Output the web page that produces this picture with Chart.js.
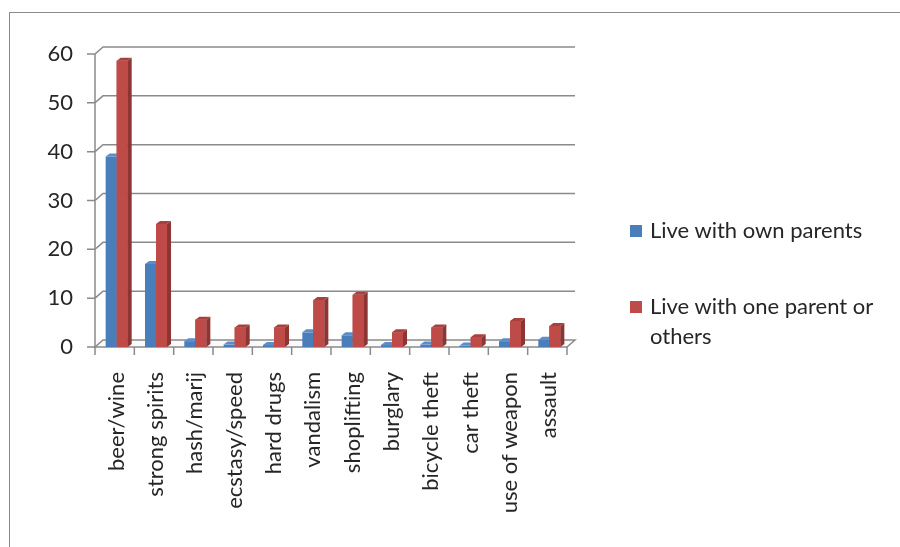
<!DOCTYPE html>
<html>
<head>
<meta charset="utf-8">
<script src="https://cdn.jsdelivr.net/npm/chart.js@4.4.1/dist/chart.umd.min.js"></script>
<style>
  html, body { margin: 0; padding: 0; background: #fff; }
  #wrap { position: relative; width: 900px; height: 547px; overflow: hidden; }
  #frame {
    position: absolute; left: 9px; top: 12px; width: 1000px; height: 1000px;
    border: 1.5px solid #8a8a8a; box-sizing: border-box;
  }
  #chart { position: absolute; left: 0; top: 0; }
  #legend {
    position: absolute; left: 630px; top: 215px; width: 262px;
    font-family: Lato, sans-serif; font-size: 22px; color: #262626;
  }
  .item { position: relative; padding-left: 20px; line-height: 30px; }
  .item .box { position: absolute; left: 0; top: 10px; width: 12px; height: 12px; }
</style>
</head>
<body>
<div id="wrap">
  <div id="frame"></div>
  <canvas id="chart" width="900" height="547"></canvas>
  <div id="legend"></div>
</div>
<script>
// categories and series
const categories = [
  "beer/wine", "strong spirits", "hash/marij", "ecstasy/speed", "hard drugs",
  "vandalism", "shoplifting", "burglary", "bicycle theft", "car theft",
  "use of weapon", "assault",
];
const ownParents = [39, 17, 1.2, 0.5, 0.4, 3, 2.4, 0.4, 0.5, 0.3, 1.2, 1.5];
const oneParent = [58.6, 25.2, 5.6, 4, 4, 9.6, 10.7, 3, 4, 2, 5.3, 4.3];
const seriesNames = ["Live with own parents", "Live with one parent or others"];
const yTicks = [0, 10, 20, 30, 40, 50, 60];

const colors = [
  { front: "#4a7ebb", side: "#355c8a", top: "#5d8dc8" },
  { front: "#be4b48", side: "#8c3532", top: "#a8403d" },
];

const DX = 8, DY = 7; // depth of the back wall
const BX = 4, BY = 3; // depth of each bar
const SHIFT = 2;      // bars sit a bit right of the front axis
const gridColor = "#8a8a8a";

function drawBarFaces(ctx, bar, c) {
  const { x, y, base, width } = bar.getProps(["x", "y", "base", "width"], true);
  const l = x - width / 2, r = x + width / 2;
  ctx.fillStyle = c.side;
  ctx.beginPath();
  ctx.moveTo(r, y);
  ctx.lineTo(r + BX, y - BY);
  ctx.lineTo(r + BX, base - BY);
  ctx.lineTo(r, base);
  ctx.closePath();
  ctx.fill();
  ctx.fillStyle = c.top;
  ctx.beginPath();
  ctx.moveTo(l, y);
  ctx.lineTo(l + BX, y - BY);
  ctx.lineTo(r + BX, y - BY);
  ctx.lineTo(r, y);
  ctx.closePath();
  ctx.fill();
}

// 3d walls, floor and the extra faces of the bars
const wall3d = {
  id: "wall3d",
  beforeDatasetsDraw(chart) {
    const { ctx, chartArea: a } = chart;
    const y = chart.scales.y;
    const left = a.left - SHIFT, right = a.right - SHIFT;
    ctx.save();
    ctx.strokeStyle = gridColor;
    ctx.lineWidth = 1.5;
    // floor
    ctx.beginPath();
    ctx.moveTo(left, a.bottom);
    ctx.lineTo(right, a.bottom);
    ctx.lineTo(right + DX, a.bottom - DY);
    ctx.lineTo(left + DX, a.bottom - DY);
    ctx.closePath();
    ctx.fillStyle = "#fafafa";
    ctx.fill();
    ctx.stroke();
    // value axis and back grid
    ctx.beginPath();
    ctx.moveTo(left, a.top);
    ctx.lineTo(left, a.bottom + 8);
    yTicks.forEach((v) => {
      const py = y.getPixelForValue(v);
      ctx.moveTo(left - 8, py);
      ctx.lineTo(left, py);
      if (v > 0) {
        ctx.lineTo(left + DX, py - DY);
        ctx.lineTo(right + DX, py - DY);
      }
    });
    // category ticks under the floor
    const step = (right - left) / categories.length;
    for (let i = 1; i <= categories.length; i++) {
      const px = left + i * step;
      ctx.moveTo(px, a.bottom);
      ctx.lineTo(px, a.bottom + 8);
    }
    ctx.stroke();
    ctx.restore();
  },
  afterDatasetsDraw(chart) {
    const { ctx } = chart;
    const own = chart.getDatasetMeta(0).data;
    const one = chart.getDatasetMeta(1).data;
    ctx.save();
    // blue faces first, then the red bars go back on top of them
    own.forEach((bar) => drawBarFaces(ctx, bar, colors[0]));
    one.forEach((bar) => {
      bar.draw(ctx);
      drawBarFaces(ctx, bar, colors[1]);
    });
    ctx.restore();
  },
};

const font = { family: "Lato, sans-serif", size: 22 };

new Chart(document.getElementById("chart"), {
  type: "bar",
  data: {
    labels: categories,
    datasets: [
      { label: seriesNames[0], data: ownParents, backgroundColor: colors[0].front },
      { label: seriesNames[1], data: oneParent, backgroundColor: colors[1].front },
    ],
  },
  options: {
    responsive: false,
    animation: false,
    events: [],
    layout: { padding: { top: 54, right: 331, left: 0, bottom: 0 } },
    datasets: { bar: { categoryPercentage: 0.56, barPercentage: 1 } },
    plugins: { legend: { display: false }, tooltip: { enabled: false } },
    scales: {
      x: {
        grid: { display: false, drawTicks: false },
        border: { display: false },
        ticks: { font, color: "#262626", minRotation: 90, maxRotation: 90, padding: 25, autoSkip: false },
        afterFit: (s) => { s.height = 200; },
      },
      y: {
        min: 0, max: 60,
        grid: { display: false, drawTicks: false },
        border: { display: false },
        ticks: { font, color: "#262626", stepSize: 10, padding: 24 },
        afterFit: (s) => { s.width = 97; },
      },
    },
  },
  plugins: [wall3d],
});

// legend
const legend = document.getElementById("legend");
seriesNames.forEach((name, i) => {
  const item = document.createElement("div");
  item.className = "item";
  item.style.marginBottom = i === 0 ? "46px" : "0";
  item.innerHTML = `<span class="box" style="background:${colors[i].front}"></span>${name}`;
  legend.appendChild(item);
});
</script>
</body>
</html>
